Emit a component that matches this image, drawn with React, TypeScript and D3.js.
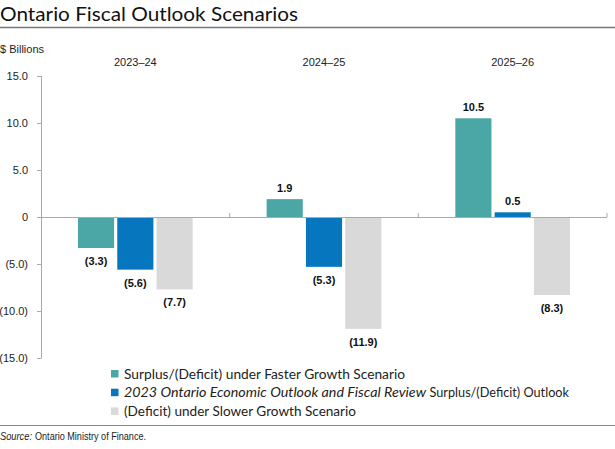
import React from "react";
import * as d3 from "d3";

const categories = ["2023–24", "2024–25", "2025–26"];
const seriesNames = ["faster", "outlook", "slower"];
const fasterValues = [-3.3, 1.9, 10.5];
const outlookValues = [-5.6, -5.3, 0.5];
const slowerValues = [-7.7, -11.9, -8.3];
const yTicks = [15, 10, 5, 0, -5, -10, -15];
const colors = ["#4BA7A5", "#0677BE", "#D9D9D9"];

const fmtTick = (v: number) => (v === 0 ? "0" : v < 0 ? `(${Math.abs(v).toFixed(1)})` : v.toFixed(1));
const fmtVal = (v: number) => (v < 0 ? `(${Math.abs(v).toFixed(1)})` : v.toFixed(1));

export default function App() {
  const W = 615, H = 449;
  const x0 = d3.scaleBand<string>().domain(categories).range([41, 607]);
  const bw = x0.bandwidth();
  const x1 = d3.scaleBand<string>().domain(seriesNames).range([bw * 0.196, bw * 0.804]).paddingInner(0.08);
  const y = d3.scaleLinear().domain([-15, 15]).range([358, 76]);
  const allSeries = [fasterValues, outlookValues, slowerValues];
  const sans = "'Liberation Sans', Arial, sans-serif";
  const titleFont = "Lato, 'Open Sans', sans-serif";
  const legendFont = "Lato, 'Open Sans', sans-serif";
  const adj = "spacingAndGlyphs";

  return (
    <svg width={W} height={H} style={{ position: "absolute", left: 0, top: 0 }}>
      <rect width={W} height={H} fill="#fff" />
      <text x={0} y={20.5} fontFamily={titleFont} fontSize={20} fill="#111" textLength={298} lengthAdjust={adj}>Ontario Fiscal Outlook Scenarios</text>
      <line x1={0} x2={W} y1={27.5} y2={27.5} stroke="#777" strokeWidth={1.3} />
      <text x={0} y={53} fontFamily={sans} fontSize={11} fill="#222">$ Billions</text>
      {categories.map((c) => (
        <text key={c} x={(x0(c) as number) + bw / 2} y={66} textAnchor="middle" fontFamily={sans} fontSize={11} fill="#222">{c}</text>
      ))}
      {/* y axis */}
      <line x1={41.5} x2={41.5} y1={y(15)} y2={y(-15)} stroke="#aaa" />
      {yTicks.map((t) => (
        <g key={t}>
          <line x1={37} x2={41.5} y1={y(t) + 0.5} y2={y(t) + 0.5} stroke="#aaa" />
          <text x={28} y={y(t) + 4} textAnchor="end" fontFamily={sans} fontSize={11} fill="#222">{fmtTick(t)}</text>
        </g>
      ))}
      {/* bars */}
      {categories.map((c, ci) =>
        seriesNames.map((s, si) => {
          const v = allSeries[si][ci];
          const bx = (x0(c) as number) + (x1(s) as number);
          const top = v >= 0 ? y(v) : y(0);
          const h = Math.abs(y(v) - y(0));
          return (
            <g key={c + s}>
              <rect x={bx} y={top} width={x1.bandwidth()} height={h} fill={colors[si]} />
              <text x={bx + x1.bandwidth() / 2} y={v >= 0 ? y(v) - 7 : y(v) + 17} textAnchor="middle" fontFamily={sans} fontSize={11} fontWeight="bold" fill="#111">{fmtVal(v)}</text>
            </g>
          );
        })
      )}
      {/* x axis */}
      <line x1={41} x2={607} y1={y(0) + 0.5} y2={y(0) + 0.5} stroke="#aaa" />
      {categories.map((c) => (
        <line key={c} x1={(x0(c) as number) + bw} x2={(x0(c) as number) + bw} y1={y(0) - 4} y2={y(0)} stroke="#aaa" />
      ))}
      {/* legend */}
      {[0, 1, 2].map((i) => (
        <rect key={i} x={111} y={370 + i * 18.7} width={7.5} height={7.5} fill={colors[i]} />
      ))}
      <text x={124} y={378.5} fontFamily={legendFont} fontSize={13.5} fill="#222" textLength={281} lengthAdjust={adj}>Surplus/(Deficit) under Faster Growth Scenario</text>
      <text x={124} y={397} fontFamily={legendFont} fontSize={13.5} fontStyle="italic" fill="#222" textLength={302} lengthAdjust={adj}>2023 Ontario Economic Outlook and Fiscal Review</text>
      <text x={429.5} y={397} fontFamily={legendFont} fontSize={13.5} fill="#222" textLength={139.5} lengthAdjust={adj}>Surplus/(Deficit) Outlook</text>
      <text x={124} y={415.5} fontFamily={legendFont} fontSize={13.5} fill="#222" textLength={232} lengthAdjust={adj}>(Deficit) under Slower Growth Scenario</text>
      <line x1={0} x2={W} y1={425.5} y2={425.5} stroke="#888" strokeWidth={1} />
      <text x={0} y={440} fontFamily={sans} fontSize={10} fontStyle="italic" fill="#222" textLength={32} lengthAdjust={adj}>Source:</text>
      <text x={35} y={440} fontFamily={sans} fontSize={10} fill="#222" textLength={111} lengthAdjust={adj}>Ontario Ministry of Finance.</text>
    </svg>
  );
}
